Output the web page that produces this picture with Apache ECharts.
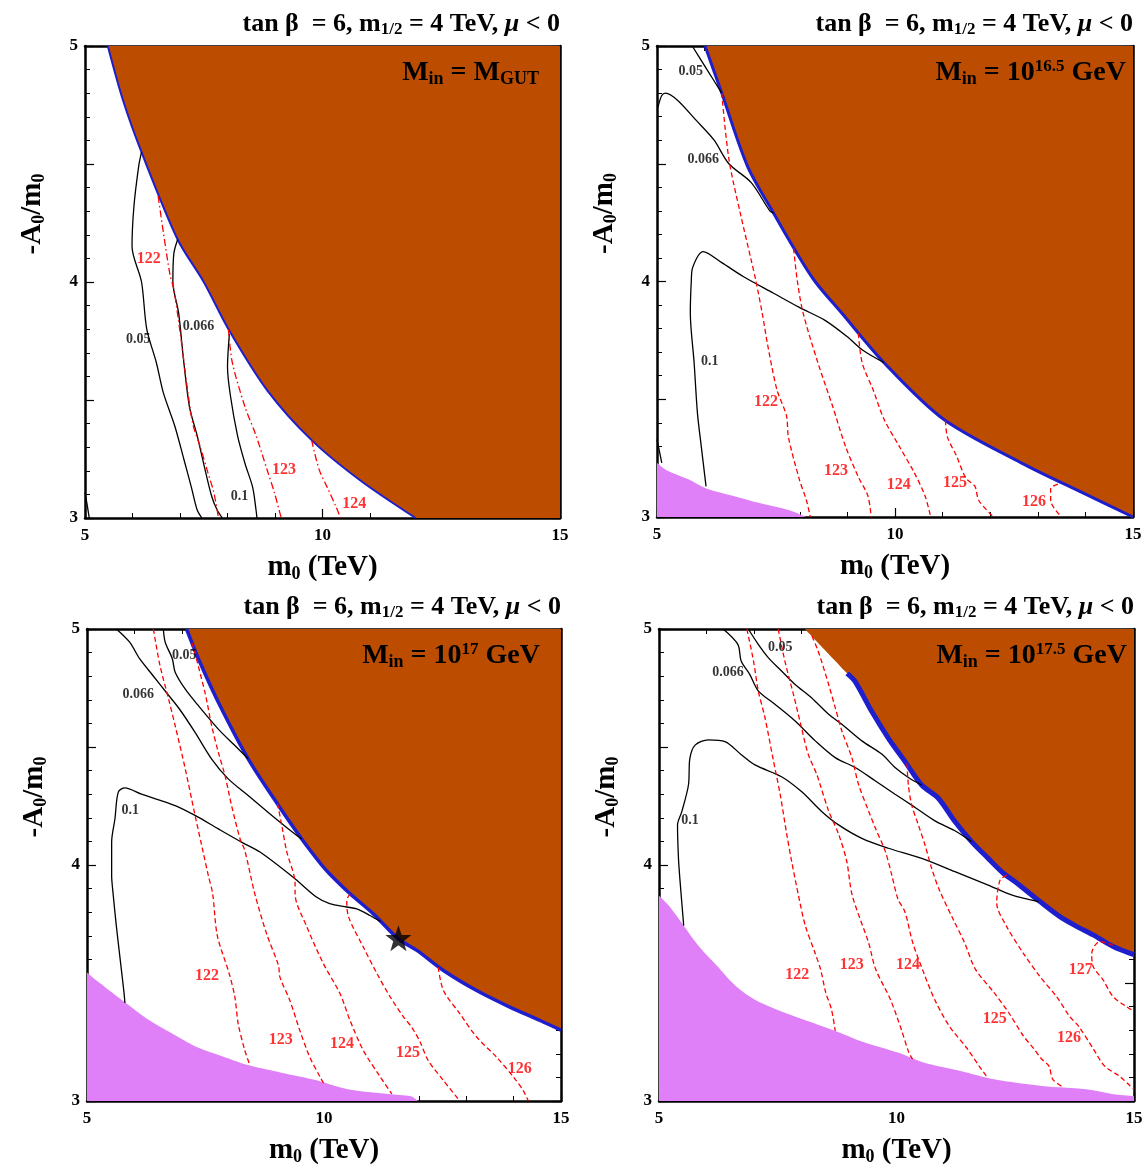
<!DOCTYPE html>
<html><head><meta charset="utf-8">
<script src="https://cdn.jsdelivr.net/npm/echarts@6/dist/echarts.min.js"></script>
<style>html,body{margin:0;padding:0;background:#fff}#c{width:1146px;height:1167px}</style>
</head><body><div id="c"></div>
<script>
// ---------- tick labels ----------
const xTicks = [5, 10, 15];
const yTicks = [3, 4, 5];
const titleText = 'tan β  = 6, m{sub|1/2} = 4 TeV, {mu|μ} < 0';
const panelLabels = ['M{sub|in} = M{sub|GUT}', 'M{sub|in} = 10{sup|16.5} GeV', 'M{sub|in} = 10{sup|17} GeV', 'M{sub|in} = 10{sup|17.5} GeV'];

// ---------- Top-left: Min = MGUT ----------
const tlBrown = [[5.48,5],[5.80,4.77],[6.19,4.55],[6.95,4.18],[7.5,4.0],[8.02,3.8],[8.84,3.54],[9.77,3.33],[10.79,3.16],[11.96,3.0]];
const tlBrownFloor = [[11.92,3.0],[15,3.0]];
const tl005 = [[6.19,4.55],[6.13,4.49],[6.03,4.32],[5.99,4.15],[6.19,4.0],[6.30,3.80],[6.50,3.66],[6.65,3.53],[6.89,3.39],[7.08,3.25],[7.24,3.13],[7.36,3.035],[7.46,3.0]];
const tl0066 = [[6.95,4.18],[6.87,4.12],[6.85,4.0],[6.97,3.87],[7.08,3.66],[7.2,3.47],[7.36,3.35],[7.51,3.22],[7.67,3.09],[7.78,3.035],[7.89,3.0]];
const tl01 = [[8.04,3.78],[8.0,3.64],[8.06,3.52],[8.21,3.35],[8.37,3.23],[8.53,3.13],[8.6,3.035],[8.62,3.0]];
const tlSmall = [[5.0,3.11],[5.05,3.05],[5.09,3.0]];
const tl122 = [[6.54,4.364],[6.65,4.21],[6.79,4.03],[6.87,3.97],[7.04,3.73],[7.16,3.54],[7.28,3.39],[7.43,3.30],[7.59,3.19],[7.71,3.11],[7.81,3.0]];
const tl123 = [[8.02,3.8],[8.1,3.66],[8.37,3.47],[8.6,3.35],[8.84,3.2],[8.99,3.106],[9.13,3.0]];
const tl124 = [[9.77,3.33],[9.93,3.205],[10.09,3.134],[10.28,3.05],[10.38,3.0]];
const tlBlackLabels = [[6.12,3.756,'0.05'],[7.39,3.81,'0.066'],[8.25,3.09,'0.1']];
const tlRedLabels = [[6.34,4.10,'122'],[9.19,3.205,'123'],[10.67,3.06,'124']];

// ---------- Top-right: Min = 10^16.5 GeV ----------
const trBrown = [[6.01,5],[6.36,4.80],[6.90,4.49],[7.45,4.29],[7.91,4.13],[8.32,4.0],[8.88,3.866],[9.77,3.655],[11.02,3.415],[12.65,3.23],[13.97,3.10],[15,3.0]];
const trPurple = [[5,3.23],[5.19,3.20],[5.66,3.16],[6.05,3.12],[6.59,3.09],[7.13,3.06],[7.76,3.03],[8.14,3.0]];
const tr005 = [[5.74,5.0],[6.05,4.90],[6.36,4.80]];
const tr0066 = [[5.02,4.74],[5.10,4.79],[5.18,4.80],[5.43,4.77],[5.82,4.685],[6.2,4.6],[6.51,4.5],[6.98,4.42],[7.37,4.30],[7.45,4.29]];
const tr01 = [[6.03,3.13],[5.93,3.30],[5.85,3.44],[5.78,3.655],[5.70,3.866],[5.72,4.0],[5.75,4.06],[5.97,4.127],[6.36,4.08],[6.82,4.02],[7.45,3.95],[7.99,3.89],[8.53,3.835],[9.0,3.765],[9.31,3.71],[9.77,3.655]];
const trSmall = [[5.0,3.33],[5.05,3.28],[5.1,3.23]];
const tr122 = [[6.36,4.80],[6.51,4.52],[6.75,4.29],[6.98,4.09],[7.08,4.0],[7.21,3.866],[7.33,3.725],[7.52,3.54],[7.72,3.43],[7.76,3.34],[7.99,3.16],[8.14,3.07],[8.22,3.0]];
const tr123 = [[7.87,4.14],[7.95,4.0],[8.07,3.866],[8.38,3.655],[8.69,3.47],[8.96,3.30],[9.23,3.17],[9.43,3.09],[9.5,3.0]];
const tr124 = [[9.23,3.78],[9.31,3.655],[9.54,3.54],[9.77,3.415],[10.09,3.30],[10.4,3.19],[10.63,3.09],[10.75,3.0]];
const tr125 = [[11.06,3.41],[11.1,3.34],[11.29,3.26],[11.49,3.165],[11.68,3.13],[11.76,3.07],[12.07,3.0]];
const tr126 = [[13.42,3.14],[13.27,3.12],[13.27,3.07],[13.5,3.0]];
const trBlackLabels = [[5.71,4.894,'0.05'],[5.97,4.52,'0.066'],[6.11,3.66,'0.1']];
const trRedLabels = [[7.29,3.49,'122'],[8.76,3.195,'123'],[10.08,3.136,'124'],[11.26,3.145,'125'],[12.92,3.064,'126']];

// ---------- Bottom-left: Min = 10^17 GeV ----------
const blBrown = [[7.10,5],[7.35,4.874],[7.77,4.69],[8.40,4.45],[9.04,4.252],[9.53,4.11],[9.95,4.0],[10.12,3.962],[10.55,3.878],[11.04,3.793],[11.57,3.687],[11.96,3.638],[12.52,3.553],[13.22,3.468],[13.92,3.398],[14.56,3.341],[15,3.30]];
const blPurple = [[5,3.545],[5.27,3.50],[5.82,3.415],[6.29,3.345],[6.76,3.29],[7.30,3.23],[7.85,3.19],[8.44,3.15],[9.10,3.12],[9.80,3.09],[10.5,3.05],[11.36,3.03],[11.83,3.02],[11.98,3.0]];
const bl005 = [[6.61,5.0],[6.65,4.944],[6.80,4.874],[6.86,4.817],[7.07,4.746],[7.35,4.675],[7.77,4.576],[8.12,4.506],[8.40,4.45]];
const bl0066 = [[5.62,5.0],[5.90,4.944],[6.11,4.874],[6.39,4.803],[6.67,4.732],[6.95,4.661],[7.28,4.562],[7.63,4.449],[7.98,4.365],[8.40,4.294],[8.90,4.21],[9.25,4.153],[9.53,4.11]];
const bl01 = [[5.80,3.415],[5.78,3.46],[5.70,3.60],[5.62,3.74],[5.55,3.88],[5.52,3.955],[5.52,4.097],[5.59,4.196],[5.66,4.309],[5.80,4.327],[6.15,4.30],[6.86,4.252],[7.28,4.21],[7.77,4.153],[8.26,4.097],[8.65,4.055],[9.35,3.948],[9.84,3.864],[10.12,3.836],[10.48,3.822],[10.69,3.814],[10.97,3.786],[11.19,3.76]];
const bl122 = [[6.40,5.0],[6.54,4.845],[6.72,4.704],[6.86,4.59],[7.07,4.41],[7.28,4.21],[7.45,4.055],[7.56,3.955],[7.65,3.88],[7.75,3.70],[8.0,3.54],[8.12,3.44],[8.19,3.327],[8.33,3.214],[8.44,3.15]];
const bl123 = [[7.22,4.94],[7.49,4.73],[7.63,4.59],[7.77,4.478],[7.91,4.38],[8.05,4.252],[8.23,4.11],[8.33,4.061],[8.54,3.878],[8.79,3.708],[9.04,3.574],[9.07,3.525],[9.28,3.426],[9.49,3.299],[9.70,3.186],[9.92,3.101],[9.99,3.075]];
const bl124 = [[9.02,4.26],[9.11,4.167],[9.21,4.06],[9.39,3.92],[9.39,3.878],[9.64,3.737],[9.99,3.581],[10.34,3.454],[10.55,3.341],[10.83,3.214],[11.19,3.101],[11.43,3.03]];
const bl125 = [[10.55,3.878],[10.48,3.85],[10.52,3.779],[10.83,3.652],[11.12,3.539],[11.40,3.44],[11.68,3.355],[11.85,3.313],[12.03,3.249],[12.20,3.171],[12.52,3.087],[12.83,3.009]];
const bl126 = [[12.41,3.567],[12.52,3.468],[12.87,3.369],[13.22,3.271],[13.64,3.186],[14.0,3.101],[14.20,3.045],[14.31,3.0]];
const blStar = [[11.57,3.69]];
const blBlackLabels = [[7.05,4.888,'0.05'],[6.08,4.722,'0.066'],[5.91,4.231,'0.1']];
const blRedLabels = [[7.53,3.532,'122'],[9.09,3.257,'123'],[10.38,3.244,'124'],[11.77,3.206,'125'],[14.13,3.138,'126']];

// ---------- Bottom-right: Min = 10^17.5 GeV ----------
const brBrown = [[8.07,5],[8.96,4.812],[9.13,4.777],[9.48,4.65],[9.83,4.537],[10.18,4.438],[10.53,4.339],[10.88,4.283],[11.23,4.184],[11.58,4.099],[11.93,4.028],[12.25,3.965],[12.49,3.93],[13.02,3.845],[13.44,3.781],[13.80,3.739],[14.14,3.704],[14.56,3.655],[15,3.62]];
const brPurple = [[5,3.87],[5.21,3.827],[5.52,3.743],[5.83,3.658],[6.22,3.573],[6.61,3.488],[7.0,3.431],[7.46,3.389],[8.01,3.347],[8.71,3.297],[9.33,3.248],[10.03,3.205],[10.57,3.163],[11.35,3.127],[12.05,3.092],[13.06,3.064],[13.99,3.05],[14.61,3.028],[15,3.021]];
const br005 = [[6.88,5.0],[7.09,4.935],[7.30,4.879],[7.58,4.822],[7.86,4.766],[8.21,4.709],[8.57,4.639],[8.85,4.596],[9.27,4.526],[9.69,4.47],[9.97,4.413],[10.25,4.371],[10.53,4.339]];
const br0066 = [[6.35,5.0],[6.66,4.935],[6.73,4.864],[6.91,4.808],[7.09,4.738],[7.44,4.681],[7.86,4.611],[8.29,4.526],[8.71,4.455],[9.13,4.413],[9.55,4.357],[9.97,4.30],[10.39,4.244],[10.81,4.187],[11.23,4.145],[11.58,4.099]];
const br01 = [[5.52,3.743],[5.44,3.94],[5.41,4.028],[5.39,4.17],[5.48,4.226],[5.62,4.339],[5.65,4.452],[5.76,4.508],[6.04,4.53],[6.39,4.523],[6.74,4.466],[7.02,4.424],[7.58,4.374],[8.00,4.311],[8.43,4.226],[8.78,4.17],[9.27,4.113],[9.83,4.071],[10.53,4.028],[11.23,3.972],[11.93,3.915],[12.42,3.873],[12.99,3.845]];
const br122 = [[6.85,5.0],[6.99,4.864],[7.09,4.738],[7.23,4.625],[7.41,4.441],[7.55,4.30],[7.69,4.13],[7.79,4.018],[7.93,3.877],[8.08,3.743],[8.28,3.63],[8.40,3.559],[8.51,3.46],[8.63,3.389],[8.71,3.297]];
const br123 = [[7.51,5.0],[7.65,4.864],[7.83,4.723],[8.00,4.582],[8.14,4.47],[8.32,4.385],[8.39,4.342],[8.57,4.23],[8.78,4.131],[8.95,4.018],[9.07,3.87],[9.41,3.672],[9.56,3.559],[9.87,3.431],[10.1,3.304],[10.26,3.205],[10.34,3.177]];
const br124 = [[8.22,4.97],[8.35,4.907],[8.57,4.766],[8.71,4.667],[8.85,4.568],[9.06,4.455],[9.20,4.342],[9.41,4.23],[9.55,4.159],[9.76,4.06],[9.90,3.958],[10.03,3.856],[10.18,3.8],[10.34,3.672],[10.57,3.545],[10.80,3.431],[11.11,3.318],[11.50,3.219],[11.74,3.148],[11.89,3.106]];
const br125 = [[10.22,4.43],[10.25,4.339],[10.32,4.254],[10.46,4.17],[10.60,4.085],[10.74,3.986],[10.90,3.895],[11.19,3.771],[11.43,3.672],[11.66,3.559],[12.05,3.46],[12.36,3.375],[12.67,3.276],[12.90,3.219],[13.06,3.177],[13.21,3.148],[13.29,3.092],[13.52,3.057]];
const br126 = [[12.32,3.957],[12.18,3.936],[12.11,3.838],[12.32,3.739],[12.67,3.626],[13.02,3.527],[13.37,3.442],[13.65,3.357],[13.83,3.318],[14.15,3.219],[14.38,3.148],[14.69,3.106],[14.92,3.064],[15,3.05]];
const br127 = [[14.56,3.66],[14.28,3.676],[14.11,3.626],[14.14,3.57],[14.35,3.513],[14.56,3.442],[14.84,3.40],[15,3.38]];
const brBlackLabels = [[7.55,4.924,'0.05'],[6.45,4.818,'0.066'],[5.65,4.19,'0.1']];
const brRedLabels = [[7.91,3.534,'122'],[9.06,3.576,'123'],[10.24,3.576,'124'],[12.07,3.347,'125'],[13.63,3.267,'126'],[13.88,3.555,'127']];

// ---------- styling / layout ----------
const FONT = '"Liberation Serif","Times New Roman",serif';
const BROWN = '#BC4D00', PURPLE = '#E080F8', BLUE = '#1E1ECC', RED = '#FF0000';
const W = 1146;
const gridBoxes = [
  {left:85, top:46, width:475, height:472},
  {left:657, top:46, width:476, height:471},
  {left:87, top:629, width:474, height:472},
  {left:659, top:629, width:475, height:472}
];
const panels = [
  {brown:tlBrown, floor:tlBrownFloor, blueFrom:0, blueW:2, purple:null, black:[tl005,tl0066,tl01,tlSmall], red:[tl122,tl123,tl124], bl:tlBlackLabels, rl:tlRedLabels, dash:[7,3,1.5,3], star:null},
  {brown:trBrown, floor:null, blueFrom:0, blueW:3, purple:trPurple, black:[tr005,tr0066,tr01,trSmall], red:[tr122,tr123,tr124,tr125,tr126], bl:trBlackLabels, rl:trRedLabels, dash:[5,3], star:null},
  {brown:blBrown, floor:null, blueFrom:0, blueW:3.5, purple:blPurple, black:[bl005,bl0066,bl01], red:[bl122,bl123,bl124,bl125,bl126], bl:blBlackLabels, rl:blRedLabels, dash:[5,3], star:blStar},
  {brown:brBrown, floor:null, blueFrom:1, blueW:5, purple:brPurple, black:[br005,br0066,br01], red:[br122,br123,br124,br125,br126,br127], bl:brBlackLabels, rl:brRedLabels, dash:[5,3], star:null}
];

const sub = (fs, pad) => ({fontFamily:FONT, fontWeight:'bold', fontSize:fs, color:'#000', padding:[pad,0,0,0]});
const sup = (fs, pad) => ({fontFamily:FONT, fontWeight:'bold', fontSize:fs, color:'#000', padding:[0,0,pad,0]});

const grid = gridBoxes.map(g => Object.assign({outerBoundsMode:'none', containLabel:false}, g));
const xAxis = [], yAxis = [];
gridBoxes.forEach((g, i) => {
  const common = {type:'value', gridIndex:i, splitLine:{show:false},
    axisLine:{show:true, onZero:false, lineStyle:{color:'#000', width:2.5}},
    axisTick:{show:true, inside:true, length:9, lineStyle:{color:'#000', width:1.2}},
    minorTick:{show:true, splitNumber:5, length:5, lineStyle:{color:'#000', width:1}}};
  xAxis.push(Object.assign({}, common, {min:xTicks[0], max:xTicks[2], interval:xTicks[1]-xTicks[0], position:'bottom',
    axisLabel:{show:true, margin:9, fontFamily:FONT, fontWeight:'bold', fontSize:17, color:'#000'},
    name:'m{s|0} (TeV)', nameLocation:'middle', nameGap:34,
    nameTextStyle:{fontFamily:FONT, fontWeight:'bold', fontSize:29, color:'#000', rich:{s:sub(18,13)}}}));
  xAxis.push(Object.assign({}, common, {min:xTicks[0], max:xTicks[2], interval:xTicks[1]-xTicks[0], position:'top', axisLabel:{show:false}}));
  yAxis.push(Object.assign({}, common, {min:yTicks[0], max:yTicks[2], interval:0.5, position:'left',
    axisLabel:{show:true, margin:7, fontFamily:FONT, fontWeight:'bold', fontSize:17, color:'#000',
      formatter: v => (yTicks.some(t => Math.abs(t - v) < 1e-6) ? String(Math.round(v)) : '')},
    name:'-A{s|0}/m{s|0}', nameLocation:'middle', nameGap:37, nameRotate:90,
    nameTextStyle:{fontFamily:FONT, fontWeight:'bold', fontSize:29, color:'#000', padding:[0,0,0,136], rich:{s:sub(18,13)}}}));
  yAxis.push(Object.assign({}, common, {min:yTicks[0], max:yTicks[2], interval:0.5, position:'right', axisLabel:{show:false}}));
});

const series = [];
panels.forEach((p, i) => {
  const ax = {xAxisIndex:2*i, yAxisIndex:2*i};
  const ln = (data, color, width, type, z, sm) => Object.assign({type:'line', data, symbol:'none', showSymbol:false, silent:true,
    smooth:sm, lineStyle:{color, width, type}, z}, ax);
  series.push(Object.assign({type:'line', data:p.brown, symbol:'none', silent:true, smooth:0.3,
    lineStyle:{width:0, color:BROWN}, areaStyle:{color:BROWN, opacity:1, origin:'end'}, z:1}, ax));
  if (p.floor) series.push(Object.assign({type:'line', data:p.floor, symbol:'none', silent:true,
    lineStyle:{width:0, color:BROWN}, areaStyle:{color:BROWN, opacity:1, origin:'end'}, z:1}, ax));
  if (p.purple) series.push(Object.assign({type:'line', data:p.purple, symbol:'none', silent:true, smooth:0.3,
    lineStyle:{width:0, color:PURPLE}, areaStyle:{color:PURPLE, opacity:1, origin:'start'}, z:1}, ax));
  series.push(ln(p.brown.slice(p.blueFrom), BLUE, p.blueW, 'solid', 2, 0.3));
  p.black.forEach(d => series.push(ln(d, '#000', 1.3, 'solid', 3, 0.3)));
  p.red.forEach(d => series.push(ln(d, RED, 1.3, p.dash, 3, 0.3)));
  series.push(Object.assign({type:'scatter', data:p.bl, symbolSize:1, itemStyle:{color:'rgba(0,0,0,0)'}, silent:true, z:4,
    label:{show:true, position:'inside', formatter:q => q.data[2], fontFamily:FONT, fontWeight:'bold', fontSize:14, color:'#000'}}, ax));
  series.push(Object.assign({type:'scatter', data:p.rl, symbolSize:1, itemStyle:{color:'rgba(0,0,0,0)'}, silent:true, z:4,
    label:{show:true, position:'inside', formatter:q => q.data[2], fontFamily:FONT, fontWeight:'bold', fontSize:16, color:RED}}, ax));
  if (p.star) series.push(Object.assign({type:'scatter', data:p.star, silent:true, z:5,
    symbol:'path://M0,-10L2.35,-3.24L9.51,-3.09L3.8,1.24L5.88,8.09L0,4L-5.88,8.09L-3.8,1.24L-9.51,-3.09L-2.35,-3.24Z',
    symbolSize:26, itemStyle:{color:'#000'}}, ax));
});

const titleRich = {sub:sub(17,11), mu:{fontFamily:FONT, fontWeight:'bold', fontStyle:'italic', fontSize:26, color:'#000'}};
const title = [];
gridBoxes.forEach((g, i) => {
  title.push({text:titleText, right: W - (g.left + g.width), top: g.top - 36, padding:0,
    textStyle:{fontFamily:FONT, fontWeight:'bold', fontSize:26, color:'#000', rich:titleRich}});
  title.push({text:panelLabels[i], right: W - (g.left + g.width) + (i === 0 || i === 2 ? 21 : 7), top: g.top + 12, padding:0,
    textStyle:{fontFamily:FONT, fontWeight:'bold', fontSize:28, color:'#000', rich:{sub:sub(18,12), sup:sup(17,12)}}});
});

const chart = echarts.init(document.getElementById('c'), null, {renderer:'canvas'});
chart.setOption({animation:false, backgroundColor:'#fff', title, grid, xAxis, yAxis, series});
</script></body></html>
